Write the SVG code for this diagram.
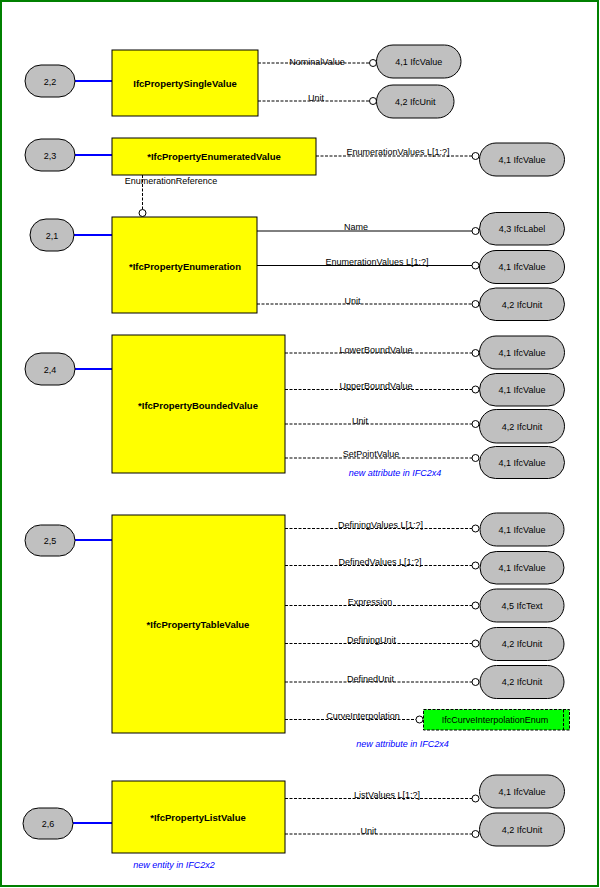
<svg xmlns="http://www.w3.org/2000/svg" width="600" height="888" viewBox="0 0 600 888">
<style>
text{font-family:"Liberation Sans",Arial,sans-serif;}
.ent{fill:#ffff00;stroke:#000;stroke-width:1;}
.en{font-size:9.5px;font-weight:bold;text-anchor:middle;fill:#000;}
.pill{fill:#c0c0c0;stroke:#000;stroke-width:1;}
.pt{font-size:9px;text-anchor:middle;fill:#000;}
.lbl{font-size:9px;text-anchor:middle;fill:#000;}
.note{font-size:9px;font-style:italic;text-anchor:middle;fill:#0000ff;}
.blue{stroke:#0000ff;stroke-width:2;fill:none;}
.d{stroke:#000;stroke-width:1;stroke-dasharray:3,1.5;fill:none;}
.s{stroke:#000;stroke-width:1;fill:none;}
.c{fill:#fff;stroke:#000;stroke-width:1;}
</style>
<rect x="1" y="1" width="597" height="885" fill="#fff" stroke="#008000" stroke-width="2"/>

<g id="connectors">
<line class="blue" x1="75" y1="81" x2="112" y2="81"/>
<line class="d" x1="258" y1="63" x2="369.5" y2="63"/><circle class="c" cx="373" cy="63" r="3.5"/>
<line class="d" x1="258" y1="101" x2="369.5" y2="101"/><circle class="c" cx="373" cy="101" r="3.5"/>

<line class="blue" x1="75" y1="155" x2="112" y2="155"/>
<line class="d" x1="316" y1="156" x2="472" y2="156"/><circle class="c" cx="475.5" cy="156" r="3.5"/>
<line class="d" x1="142.5" y1="175" x2="142.5" y2="209.5"/><circle class="c" cx="142.5" cy="213" r="3.5"/>

<line class="blue" x1="74" y1="235" x2="112" y2="235"/>
<line class="s" x1="257" y1="231" x2="472" y2="231"/><circle class="c" cx="475.5" cy="231" r="3.5"/>
<line class="s" x1="257" y1="265.5" x2="472" y2="265.5"/><circle class="c" cx="475.5" cy="265.5" r="3.5"/>
<line class="d" x1="257" y1="304" x2="472" y2="304"/><circle class="c" cx="475.5" cy="304" r="3.5"/>

<line class="blue" x1="75" y1="369" x2="112" y2="369"/>
<line class="d" x1="285" y1="353" x2="472" y2="353"/><circle class="c" cx="475.5" cy="353" r="3.5"/>
<line class="d" x1="285" y1="389.5" x2="472" y2="389.5"/><circle class="c" cx="475.5" cy="389.5" r="3.5"/>
<line class="d" x1="285" y1="424" x2="472" y2="424"/><circle class="c" cx="475.5" cy="424" r="3.5"/>
<line class="d" x1="285" y1="458" x2="472" y2="458"/><circle class="c" cx="475.5" cy="458" r="3.5"/>

<line class="blue" x1="75" y1="540" x2="112" y2="540"/>
<line class="d" x1="285" y1="528.5" x2="472" y2="528.5"/><circle class="c" cx="475.5" cy="528.5" r="3.5"/>
<line class="d" x1="285" y1="565.5" x2="472" y2="565.5"/><circle class="c" cx="475.5" cy="565.5" r="3.5"/>
<line class="d" x1="285" y1="605.5" x2="472" y2="605.5"/><circle class="c" cx="475.5" cy="605.5" r="3.5"/>
<line class="d" x1="285" y1="643.5" x2="472" y2="643.5"/><circle class="c" cx="475.5" cy="643.5" r="3.5"/>
<line class="d" x1="285" y1="682" x2="472" y2="682"/><circle class="c" cx="475.5" cy="682" r="3.5"/>
<line class="d" x1="285" y1="719.5" x2="416" y2="719.5"/><circle class="c" cx="419.5" cy="719.5" r="3.5"/>

<line class="blue" x1="73" y1="823" x2="112" y2="823"/>
<line class="d" x1="285" y1="798.5" x2="472" y2="798.5"/><circle class="c" cx="475.5" cy="798.5" r="3.5"/>
<line class="d" x1="285" y1="834" x2="472" y2="834"/><circle class="c" cx="475.5" cy="834" r="3.5"/>

<text class="lbl" x="317" y="65">NominalValue</text>
<text class="lbl" x="316" y="101">Unit</text>
<text class="lbl" x="398" y="155">EnumerationValues L[1:?]</text>
<text class="lbl" x="171" y="184">EnumerationReference</text>
<text class="lbl" x="356" y="230">Name</text>
<text class="lbl" x="377" y="265">EnumerationValues L[1:?]</text>
<text class="lbl" x="352.5" y="303.5">Unit</text>
<text class="lbl" x="376" y="353">LowerBoundValue</text>
<text class="lbl" x="376" y="389">UpperBoundValue</text>
<text class="lbl" x="360" y="424">Unit</text>
<text class="lbl" x="371" y="457">SetPointValue</text>
<text class="lbl" x="380.5" y="528">DefiningValues L[1:?]</text>
<text class="lbl" x="380" y="565">DefinedValues L[1:?]</text>
<text class="lbl" x="370" y="605">Expression</text>
<text class="lbl" x="371.5" y="643">DefiningUnit</text>
<text class="lbl" x="370.5" y="681.5">DefinedUnit</text>
<text class="lbl" x="363" y="719">CurveInterpolation</text>
<text class="lbl" x="387" y="798">ListValues L[1:?]</text>
<text class="lbl" x="368.5" y="833.5">Unit</text>
</g>

<g id="n22"><rect class="pill" x="25" y="65" width="50" height="32" rx="16"/><text class="pt" x="50" y="84.5">2,2</text></g>
<g id="IfcPropertySingleValue"><rect class="ent" x="112" y="50" width="146" height="66"/><text class="en" x="185" y="86.5">IfcPropertySingleValue</text></g>
<g id="v1"><rect class="pill" x="376.5" y="45" width="84.5" height="33" rx="16.5"/><text class="pt" x="418.75" y="64.5">4,1 IfcValue</text></g>
<g id="u1"><rect class="pill" x="376.5" y="85" width="77.5" height="33" rx="16.5"/><text class="pt" x="415.25" y="104.5">4,2 IfcUnit</text></g>

<g id="n23"><rect class="pill" x="25" y="139" width="50" height="32" rx="16"/><text class="pt" x="50" y="158.5">2,3</text></g>
<g id="IfcPropertyEnumeratedValue"><rect class="ent" x="112" y="138" width="204" height="37"/><text class="en" x="214" y="160">*IfcPropertyEnumeratedValue</text></g>
<g id="v2"><rect class="pill" x="479.5" y="143" width="85" height="33" rx="16.5"/><text class="pt" x="522" y="162.5">4,1 IfcValue</text></g>

<g id="n21"><rect class="pill" x="30" y="219" width="44" height="32" rx="16"/><text class="pt" x="52" y="238.5">2,1</text></g>
<g id="IfcPropertyEnumeration"><rect class="ent" x="112" y="217" width="145" height="96"/><text class="en" x="185" y="269.5">*IfcPropertyEnumeration</text></g>
<g id="l3"><rect class="pill" x="479.5" y="212.5" width="85" height="32.5" rx="16.25"/><text class="pt" x="522" y="232">4,3 IfcLabel</text></g>
<g id="v3"><rect class="pill" x="479.5" y="250.5" width="85" height="33" rx="16.5"/><text class="pt" x="522" y="270">4,1 IfcValue</text></g>
<g id="u3"><rect class="pill" x="479.5" y="288" width="85" height="32.5" rx="16.25"/><text class="pt" x="522" y="307.5">4,2 IfcUnit</text></g>

<g id="n24"><rect class="pill" x="25" y="353" width="50" height="32" rx="16"/><text class="pt" x="50" y="372.5">2,4</text></g>
<g id="IfcPropertyBoundedValue"><rect class="ent" x="112" y="335" width="173" height="138"/><text class="en" x="198" y="408.5">*IfcPropertyBoundedValue</text></g>
<g id="v4a"><rect class="pill" x="479.5" y="336" width="85" height="33" rx="16.5"/><text class="pt" x="522" y="355.5">4,1 IfcValue</text></g>
<g id="v4b"><rect class="pill" x="479.5" y="373.5" width="85" height="32.5" rx="16.25"/><text class="pt" x="522" y="393">4,1 IfcValue</text></g>
<g id="u4"><rect class="pill" x="479.5" y="409.5" width="85" height="33.5" rx="16.75"/><text class="pt" x="522" y="429.5">4,2 IfcUnit</text></g>
<g id="v4c"><rect class="pill" x="479.5" y="446.5" width="85" height="32" rx="16"/><text class="pt" x="522" y="465.5">4,1 IfcValue</text></g>
<text class="note" x="395" y="476">new attribute in IFC2x4</text>

<g id="n25"><rect class="pill" x="25" y="525" width="50" height="31" rx="15.5"/><text class="pt" x="50" y="543.5">2,5</text></g>
<g id="IfcPropertyTableValue"><rect class="ent" x="112" y="515" width="173" height="218"/><text class="en" x="198" y="628">*IfcPropertyTableValue</text></g>
<g id="v5a"><rect class="pill" x="480" y="513" width="84" height="33" rx="16.5"/><text class="pt" x="522" y="532.5">4,1 IfcValue</text></g>
<g id="v5b"><rect class="pill" x="480" y="551.5" width="84" height="32.5" rx="16.25"/><text class="pt" x="522" y="571">4,1 IfcValue</text></g>
<g id="t5"><rect class="pill" x="480" y="589" width="84" height="33" rx="16.5"/><text class="pt" x="522" y="608.5">4,5 IfcText</text></g>
<g id="u5a"><rect class="pill" x="480" y="627.5" width="84" height="33" rx="16.5"/><text class="pt" x="522" y="647">4,2 IfcUnit</text></g>
<g id="u5b"><rect class="pill" x="480" y="665.5" width="84" height="33" rx="16.5"/><text class="pt" x="522" y="685">4,2 IfcUnit</text></g>
<g id="IfcCurveInterpolationEnum"><rect x="423.5" y="709.5" width="146" height="20.5" fill="#00ff00" stroke="#000" stroke-width="1" stroke-dasharray="3,1.5"/><line class="d" x1="563.5" y1="709.5" x2="563.5" y2="730"/><text class="pt" x="495" y="723" fill="#333">IfcCurveInterpolationEnum</text></g>
<text class="note" x="402.5" y="747">new attribute in IFC2x4</text>

<g id="n26"><rect class="pill" x="23" y="808" width="50" height="31" rx="15.5"/><text class="pt" x="48" y="826.5">2,6</text></g>
<g id="IfcPropertyListValue"><rect class="ent" x="112" y="781" width="173" height="72"/><text class="en" x="198" y="820.5">*IfcPropertyListValue</text></g>
<g id="v6"><rect class="pill" x="479.5" y="775" width="85" height="33" rx="16.5"/><text class="pt" x="522" y="794.5">4,1 IfcValue</text></g>
<g id="u6"><rect class="pill" x="479.5" y="813" width="85" height="33" rx="16.5"/><text class="pt" x="522" y="832.5">4,2 IfcUnit</text></g>
<text class="note" x="174" y="868">new entity in IFC2x2</text>
</svg>
